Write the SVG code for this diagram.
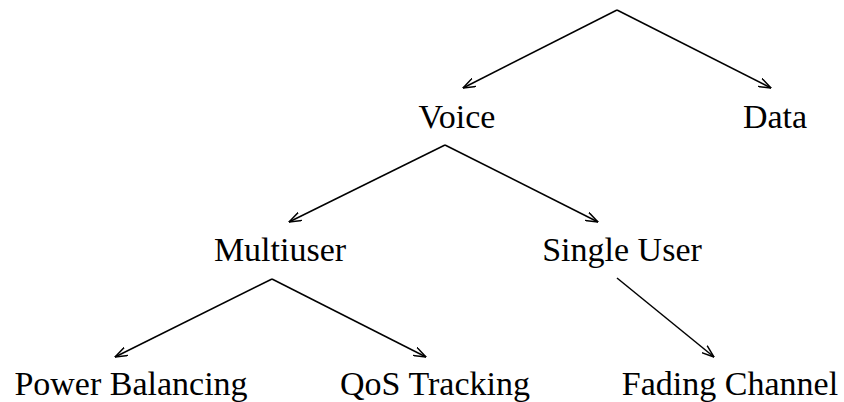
<svg xmlns="http://www.w3.org/2000/svg" width="844" height="402" viewBox="0 0 844 402">
  <style>
    .label { font-family: "Liberation Serif", "Times New Roman", serif; font-size: 34px; fill: #000; text-anchor: middle; }
    .edge { stroke: #000; stroke-width: 1.5; fill: none; marker-end: url(#head); }
  </style>
  <defs>
    <marker id="head" markerUnits="userSpaceOnUse" viewBox="0 0 13 10" refX="12.5" refY="5" markerWidth="13" markerHeight="10" orient="auto">
      <path d="M0,0.5 L12.5,5 L0,9.5" fill="none" stroke="#000" stroke-width="1.5"/>
    </marker>
  </defs>
  <rect width="844" height="402" fill="#fff"/>

  <g id="edges">
    <line class="edge" x1="617" y1="10" x2="463" y2="88"/>
    <line class="edge" x1="617" y1="10" x2="771" y2="88"/>
    <line class="edge" x1="445" y1="145" x2="289" y2="222"/>
    <line class="edge" x1="445" y1="145" x2="598" y2="222"/>
    <line class="edge" x1="272" y1="279" x2="115" y2="357"/>
    <line class="edge" x1="272" y1="279" x2="426" y2="357"/>
    <line class="edge" x1="617" y1="278" x2="714" y2="357"/>
  </g>

  <g id="voice"><text class="label" x="457" y="128">Voice</text></g>
  <g id="data"><text class="label" x="775" y="128">Data</text></g>
  <g id="multiuser"><text class="label" x="280" y="261">Multiuser</text></g>
  <g id="single-user"><text class="label" x="622" y="261">Single User</text></g>
  <g id="power-balancing"><text class="label" x="131" y="395">Power Balancing</text></g>
  <g id="qos-tracking"><text class="label" x="435" y="395">QoS Tracking</text></g>
  <g id="fading-channel"><text class="label" x="730" y="395">Fading Channel</text></g>
</svg>
